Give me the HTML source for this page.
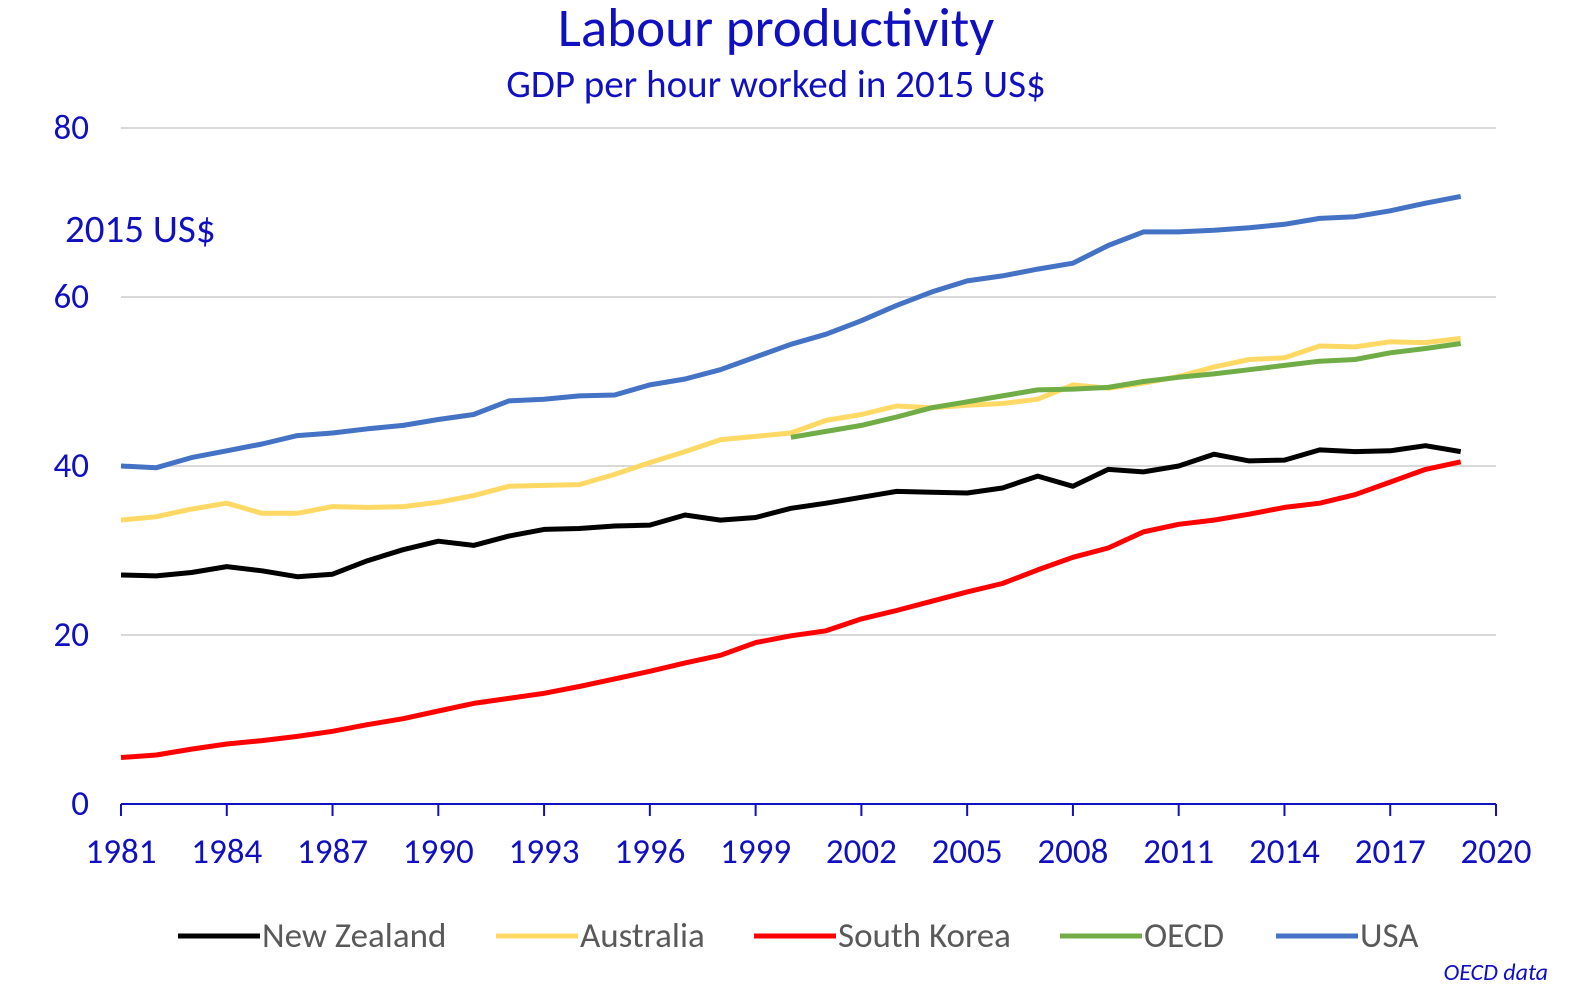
<!DOCTYPE html>
<html><head><meta charset="utf-8">
<style>
html,body{margin:0;padding:0;background:#fff;}
svg{display:block;font-family:Carlito,"Liberation Sans",sans-serif;}
</style></head>
<body>
<svg id="chart" width="1578" height="1008" viewBox="0 0 1578 1008">
<text x="776" y="46" text-anchor="middle" font-size="55" fill="#1010c0">Labour productivity</text>
<text x="776" y="97" text-anchor="middle" font-size="39" fill="#1010c0">GDP per hour worked in 2015 US$</text>
<text x="65" y="242" font-size="39" fill="#1010c0">2015 US$</text>
<text x="1548" y="980" text-anchor="end" font-size="24" font-style="italic" fill="#1010c0">OECD data</text>
<g id="grid"></g><g id="axes"></g><g id="series"></g><g id="legend"></g>
</svg>
<script>
const years=[];for(let y=1981;y<=2019;y++)years.push(y);
const yTicks=[0,20,40,60,80];
const xTicks=[1981,1984,1987,1990,1993,1996,1999,2002,2005,2008,2011,2014,2017,2020];
const nz=[27.1,27.0,27.4,28.1,27.6,26.9,27.2,28.8,30.1,31.1,30.6,31.7,32.5,32.6,32.9,33.0,34.2,33.6,33.9,35.0,35.6,36.3,37.0,36.9,36.8,37.4,38.8,37.6,39.6,39.3,40.0,41.4,40.6,40.7,41.9,41.7,41.8,42.4,41.7];
const aus=[33.6,34.0,34.9,35.6,34.4,34.4,35.2,35.1,35.2,35.7,36.5,37.6,37.7,37.8,39.0,40.4,41.7,43.1,43.5,43.9,45.4,46.1,47.1,46.9,47.2,47.4,47.9,49.6,49.2,49.8,50.6,51.7,52.6,52.8,54.2,54.1,54.7,54.6,55.1];
const kor=[5.5,5.8,6.5,7.1,7.5,8.0,8.6,9.4,10.1,11.0,11.9,12.5,13.1,13.9,14.8,15.7,16.7,17.6,19.1,19.9,20.5,21.9,22.9,24.0,25.1,26.1,27.7,29.2,30.3,32.2,33.1,33.6,34.3,35.1,35.6,36.6,38.1,39.6,40.5];
const oecd=[null,null,null,null,null,null,null,null,null,null,null,null,null,null,null,null,null,null,null,43.4,44.1,44.8,45.8,46.9,47.6,48.3,49.0,49.1,49.3,50.0,50.5,50.9,51.4,51.9,52.4,52.6,53.4,53.9,54.5];
const usa=[40.0,39.8,41.0,41.8,42.6,43.6,43.9,44.4,44.8,45.5,46.1,47.7,47.9,48.3,48.4,49.6,50.3,51.4,52.9,54.4,55.6,57.2,59.0,60.6,61.9,62.5,63.3,64.0,66.1,67.7,67.7,67.9,68.2,68.6,69.3,69.5,70.2,71.1,71.9];
const seriesNames=["New Zealand","Australia","South Korea","OECD","USA"];
const seriesColors=["#000000","#ffd966","#ff0000","#70ad47","#4472c4"];
const seriesData=[nz,aus,kor,oecd,usa];

const NS="http://www.w3.org/2000/svg";
const X0=121,X1=1496,Y0=804,Y1=128;
const xs=y=>X0+(y-1981)*(X1-X0)/39;
const ys=v=>Y0-v*(Y0-Y1)/80;
function mk(t,a,p){const e=document.createElementNS(NS,t);for(const k in a)e.setAttribute(k,a[k]);p.appendChild(e);return e;}
const grid=document.getElementById('grid'),axes=document.getElementById('axes'),ser=document.getElementById('series'),leg=document.getElementById('legend');
yTicks.forEach(v=>{
  if(v>0){const l=mk('line',{x1:X0,x2:X1,y1:ys(v),y2:ys(v),stroke:'#d9d9d9','stroke-width':2},grid);
  
  }
  const t=mk('text',{x:89,y:ys(v)+11,'text-anchor':'end','font-size':35,fill:'#1010c0'},axes);t.textContent=v;
  
  
});
const ax=mk('line',{x1:X0,x2:X1,y1:Y0,y2:Y0,stroke:'#1010c0','stroke-width':2},axes);


xTicks.forEach(yr=>{
  const tk=mk('line',{x1:xs(yr),x2:xs(yr),y1:Y0,y2:Y0+12,stroke:'#1010c0','stroke-width':2},axes);
  
  
  const t=mk('text',{x:xs(yr),y:863,'text-anchor':'middle','font-size':35,fill:'#1010c0'},axes);t.textContent=yr;
  
  
});
const order=[1,3,0,2,4];
order.forEach(i=>{
  let d='';let started=false;
  seriesData[i].forEach((v,j)=>{if(v==null)return;d+=(started?'L':'M')+xs(years[j]).toFixed(1)+','+ys(v).toFixed(1);started=true;});
  const p=mk('path',{d:d,fill:'none',stroke:seriesColors[i],'stroke-width':5,'stroke-linejoin':'round'},ser);
  
  
});
const legX=[178,496,754,1060,1276];
seriesNames.forEach((n,i)=>{
  const g=mk('g',{},leg);
  
  
  mk('line',{x1:legX[i],x2:legX[i]+82,y1:936,y2:936,stroke:seriesColors[i],'stroke-width':5},g);
  const t=mk('text',{x:legX[i]+84,y:947,'font-size':35,fill:'#595959'},g);t.textContent=n;
});
</script>
</body></html>
